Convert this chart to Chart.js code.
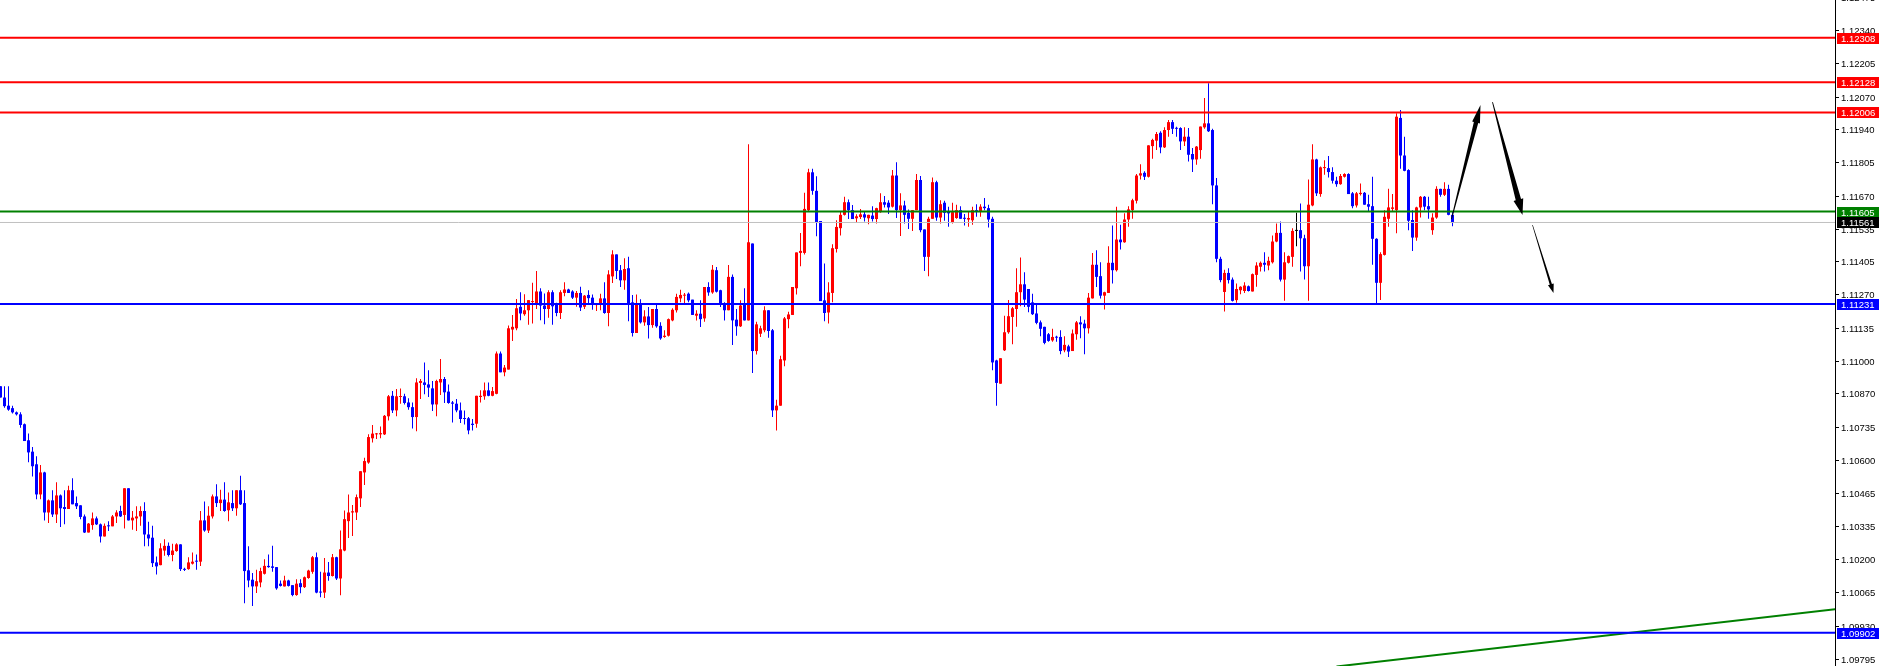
<!DOCTYPE html>
<html>
<head>
<meta charset="utf-8">
<title>EURUSD H1</title>
<script src="https://cdn.jsdelivr.net/npm/chart.js"></script>
<style>
  html, body { margin: 0; padding: 0; background: #ffffff; }
  #wrap { width: 1882px; height: 666px; }
  canvas { display: block; }
</style>
</head>
<body>
<div id="wrap"><canvas id="myChart" width="1882" height="666"></canvas></div>
<script>
'use strict'

const opens = [
  1.10899,1.10853,1.10820,1.10810,1.10793,1.10785,1.10745,1.10680,1.10634,1.10583,
  1.10461,1.10550,1.10388,1.10437,1.10380,1.10457,1.10410,1.10402,1.10478,1.10426,
  1.10417,1.10372,1.10307,1.10337,1.10364,1.10340,1.10291,1.10334,1.10332,1.10372,
  1.10394,1.10378,1.10486,1.10356,1.10364,1.10372,1.10394,1.10299,1.10286,1.10186,
  1.10175,1.10234,1.10253,1.10216,1.10232,1.10259,1.10159,1.10159,1.10181,1.10191,
  1.10189,1.10356,1.10315,1.10372,1.10453,1.10426,1.10440,1.10397,1.10426,1.10405,
  1.10478,1.10426,1.10154,1.10116,1.10089,1.10105,1.10140,1.10172,1.10170,1.10167,
  1.10100,1.10089,1.10113,1.10094,1.10054,1.10102,1.10086,1.10123,1.10148,1.10207,
  1.10067,1.10064,1.10145,1.10131,1.10207,1.10121,1.10234,1.10353,1.10388,1.10388,
  1.10445,1.10550,1.10590,1.10688,1.10704,1.10704,1.10704,1.10777,1.10860,1.10801,
  1.10855,1.10858,1.10833,1.10814,1.10774,1.10912,1.10914,1.10906,1.10890,1.10825,
  1.10914,1.10928,1.10877,1.10833,1.10828,1.10801,1.10769,1.10769,1.10747,1.10747,
  1.10855,1.10858,1.10882,1.10860,1.10868,1.11031,1.10955,1.10966,1.11128,1.11133,
  1.11220,1.11190,1.11206,1.11239,1.11233,1.11282,1.11225,1.11211,1.11279,1.11233,
  1.11195,1.11276,1.11290,1.11282,1.11257,1.11276,1.11220,1.11268,1.11257,1.11227,
  1.11230,1.11254,1.11195,1.11343,1.11432,1.11368,1.11327,1.11376,1.11238,1.11114,
  1.11233,1.11157,1.11181,1.11146,1.11211,1.11143,1.11098,1.11103,1.11165,1.11206,
  1.11254,1.11265,1.11273,1.11249,1.11184,1.11192,1.11173,1.11300,1.11278,1.11368,
  1.11287,1.11233,1.11206,1.11341,1.11168,1.11141,1.11230,1.11165,1.11476,1.11041,
  1.11111,1.11125,1.11206,1.11125,1.10801,1.10820,1.11003,1.11170,1.11187,1.11295,
  1.11438,1.11438,1.11611,1.11764,1.11689,1.11567,1.11246,1.11197,1.11276,1.11454,
  1.11538,1.11592,1.11643,1.11611,1.11578,1.11583,1.11594,1.11578,1.11589,1.11575,
  1.11603,1.11643,1.11641,1.11625,1.11751,1.11611,1.11630,1.11600,1.11576,1.11611,
  1.11733,1.11533,1.11422,1.11576,1.11724,1.11581,1.11641,1.11606,1.11562,1.11579,
  1.11611,1.11579,1.11573,1.11570,1.11611,1.11606,1.11625,1.11619,1.11576,1.11003,
  1.10909,1.11044,1.11117,1.11179,1.11211,1.11279,1.11311,1.11292,1.11238,1.11193,
  1.11157,1.11139,1.11109,1.11084,1.11098,1.11098,1.11044,1.11060,1.11041,1.11109,
  1.11157,1.11152,1.11133,1.11254,1.11390,1.11344,1.11265,1.11276,1.11398,1.11368,
  1.11492,1.11481,1.11573,1.11611,1.11649,1.11751,1.11762,1.11746,1.11870,1.11892,
  1.11924,1.11865,1.11935,1.11967,1.11943,1.11943,1.11889,1.11908,1.11838,1.11816,
  1.11854,1.11946,1.11962,1.11935,1.11711,1.11414,1.11280,1.11357,1.11330,1.11247,
  1.11287,1.11284,1.11303,1.11282,1.11349,1.11382,1.11398,1.11387,1.11400,1.11484,
  1.11519,1.11330,1.11398,1.11422,1.11527,1.11530,1.11497,1.11384,1.11630,1.11816,
  1.11676,1.11781,1.11781,1.11765,1.11730,1.11716,1.11746,1.11757,1.11679,1.11630,
  1.11676,1.11681,1.11635,1.11627,1.11495,1.11317,1.11430,1.11576,1.11616,1.11611,
  1.11984,1.11832,1.11773,1.11571,1.11500,1.11622,1.11665,1.11627,1.11530,1.11581,
  1.11697,1.11673,1.11697,1.11592
]
const highs = [
  1.10899,1.10899,1.10899,1.10820,1.10796,1.10793,1.10748,1.10707,1.10653,1.10615,
  1.10580,1.10553,1.10440,1.10478,1.10510,1.10461,1.10478,1.10496,1.10526,1.10453,
  1.10417,1.10380,1.10345,1.10388,1.10372,1.10343,1.10343,1.10353,1.10378,1.10397,
  1.10415,1.10486,1.10486,1.10394,1.10413,1.10413,1.10429,1.10351,1.10334,1.10210,
  1.10264,1.10280,1.10267,1.10262,1.10264,1.10259,1.10164,1.10207,1.10226,1.10218,
  1.10394,1.10432,1.10413,1.10461,1.10502,1.10480,1.10510,1.10469,1.10478,1.10478,
  1.10537,1.10478,1.10251,1.10143,1.10156,1.10164,1.10199,1.10218,1.10253,1.10167,
  1.10113,1.10132,1.10116,1.10094,1.10118,1.10118,1.10129,1.10156,1.10212,1.10226,
  1.10148,1.10204,1.10188,1.10220,1.10209,1.10315,1.10396,1.10461,1.10418,1.10461,
  1.10555,1.10609,1.10704,1.10742,1.10709,1.10736,1.10782,1.10863,1.10879,1.10887,
  1.10890,1.10868,1.10850,1.10833,1.10931,1.10928,1.10995,1.10963,1.10920,1.10925,
  1.11009,1.10936,1.10906,1.10839,1.10847,1.10833,1.10801,1.10774,1.10766,1.10860,
  1.10882,1.10914,1.10914,1.10896,1.11039,1.11039,1.10985,1.11144,1.11187,1.11252,
  1.11279,1.11271,1.11247,1.11317,1.11365,1.11295,1.11274,1.11287,1.11287,1.11236,
  1.11287,1.11319,1.11293,1.11287,1.11284,1.11301,1.11268,1.11287,1.11270,1.11235,
  1.11273,1.11319,1.11368,1.11449,1.11432,1.11389,1.11416,1.11422,1.11268,1.11270,
  1.11251,1.11206,1.11219,1.11211,1.11227,1.11157,1.11125,1.11173,1.11214,1.11273,
  1.11289,1.11276,1.11278,1.11249,1.11206,1.11246,1.11300,1.11319,1.11389,1.11381,
  1.11289,1.11238,1.11389,1.11351,1.11211,1.11246,1.11295,1.11878,1.11476,1.11160,
  1.11143,1.11222,1.11206,1.11130,1.10844,1.11022,1.11179,1.11200,1.11300,1.11440,
  1.11519,1.11681,1.11778,1.11778,1.11748,1.11567,1.11395,1.11319,1.11473,1.11570,
  1.11605,1.11665,1.11654,1.11632,1.11594,1.11616,1.11605,1.11592,1.11627,1.11621,
  1.11679,1.11668,1.11651,1.11773,1.11805,1.11679,1.11649,1.11614,1.11611,1.11757,
  1.11749,1.11533,1.11584,1.11743,1.11730,1.11651,1.11649,1.11625,1.11641,1.11633,
  1.11627,1.11595,1.11603,1.11625,1.11635,1.11635,1.11660,1.11633,1.11584,1.11006,
  1.11012,1.11184,1.11247,1.11219,1.11376,1.11419,1.11360,1.11292,1.11273,1.11233,
  1.11165,1.11139,1.11114,1.11131,1.11103,1.11125,1.11101,1.11066,1.11128,1.11163,
  1.11182,1.11168,1.11276,1.11438,1.11449,1.11400,1.11281,1.11465,1.11549,1.11625,
  1.11552,1.11598,1.11627,1.11657,1.11757,1.11797,1.11768,1.11873,1.11900,1.11927,
  1.11930,1.11946,1.11976,1.11976,1.11948,1.11946,1.11946,1.11943,1.11862,1.11870,
  1.11949,1.12065,1.12124,1.11940,1.11741,1.11422,1.11370,1.11376,1.11338,1.11314,
  1.11303,1.11319,1.11306,1.11355,1.11400,1.11403,1.11441,1.11422,1.11508,1.11557,
  1.11565,1.11441,1.11427,1.11538,1.11600,1.11638,1.11511,1.11735,1.11878,1.11819,
  1.11787,1.11813,1.11830,1.11784,1.11746,1.11757,1.11760,1.11760,1.11684,1.11684,
  1.11719,1.11684,1.11673,1.11746,1.11497,1.11441,1.11611,1.11697,1.11676,1.12003,
  1.12016,1.11908,1.11776,1.11611,1.11625,1.11668,1.11668,1.11665,1.11598,1.11708,
  1.11697,1.11724,1.11714,1.11608
]
const lows = [
  1.10853,1.10812,1.10799,1.10788,1.10780,1.10731,1.10677,1.10591,1.10534,1.10442,
  1.10442,1.10356,1.10345,1.10370,1.10345,1.10329,1.10340,1.10402,1.10421,1.10402,
  1.10361,1.10305,1.10307,1.10318,1.10337,1.10267,1.10291,1.10313,1.10332,1.10345,
  1.10370,1.10323,1.10356,1.10318,1.10313,1.10334,1.10251,1.10251,1.10167,1.10137,
  1.10175,1.10213,1.10210,1.10191,1.10229,1.10151,1.10151,1.10156,1.10178,1.10156,
  1.10172,1.10310,1.10305,1.10364,1.10410,1.10394,1.10391,1.10353,1.10394,1.10375,
  1.10418,1.10021,1.10086,1.10010,1.10062,1.10086,1.10137,1.10164,1.10148,1.10075,
  1.10089,1.10089,1.10089,1.10049,1.10051,1.10061,1.10083,1.10120,1.10140,1.10061,
  1.10045,1.10042,1.10112,1.10129,1.10115,1.10053,1.10231,1.10285,1.10293,1.10358,
  1.10410,1.10499,1.10585,1.10671,1.10685,1.10688,1.10701,1.10760,1.10790,1.10777,
  1.10828,1.10825,1.10804,1.10728,1.10717,1.10847,1.10866,1.10855,1.10798,1.10777,
  1.10863,1.10831,1.10828,1.10752,1.10793,1.10750,1.10744,1.10704,1.10720,1.10731,
  1.10833,1.10844,1.10858,1.10858,1.10866,1.10955,1.10939,1.10966,1.11082,1.11125,
  1.11166,1.11184,1.11147,1.11152,1.11211,1.11166,1.11149,1.11176,1.11147,1.11182,
  1.11171,1.11263,1.11276,1.11252,1.11220,1.11203,1.11211,1.11233,1.11208,1.11203,
  1.11206,1.11192,1.11141,1.11316,1.11332,1.11300,1.11289,1.11162,1.11100,1.11114,
  1.11152,1.11143,1.11092,1.11135,1.11135,1.11087,1.11095,1.11100,1.11162,1.11197,
  1.11238,1.11235,1.11238,1.11187,1.11165,1.11138,1.11160,1.11265,1.11273,1.11278,
  1.11219,1.11165,1.11206,1.11065,1.11103,1.11138,1.11165,1.11165,1.10952,1.11027,
  1.11098,1.11117,1.11095,1.10774,1.10720,1.10820,1.10979,1.11133,1.11187,1.11270,
  1.11384,1.11432,1.11605,1.11673,1.11505,1.11243,1.11162,1.11152,1.11238,1.11440,
  1.11508,1.11589,1.11575,1.11575,1.11559,1.11575,1.11565,1.11554,1.11565,1.11557,
  1.11600,1.11622,1.11595,1.11622,1.11579,1.11506,1.11557,1.11535,1.11527,1.11611,
  1.11522,1.11365,1.11344,1.11576,1.11568,1.11557,1.11568,1.11544,1.11557,1.11576,
  1.11576,1.11549,1.11544,1.11552,1.11584,1.11584,1.11611,1.11541,1.10963,1.10820,
  1.10909,1.11041,1.11111,1.11068,1.11139,1.11222,1.11219,1.11198,1.11187,1.11149,
  1.11101,1.11068,1.11079,1.11079,1.11079,1.11028,1.11036,1.11017,1.11041,1.11087,
  1.11093,1.11028,1.11112,1.11254,1.11300,1.11254,1.11209,1.11276,1.11314,1.11363,
  1.11452,1.11479,1.11544,1.11576,1.11638,1.11735,1.11733,1.11743,1.11819,1.11854,
  1.11841,1.11862,1.11908,1.11919,1.11908,1.11854,1.11870,1.11808,1.11765,1.11795,
  1.11819,1.11940,1.11927,1.11635,1.11400,1.11319,1.11201,1.11314,1.11241,1.11236,
  1.11271,1.11276,1.11282,1.11282,1.11301,1.11363,1.11363,1.11368,1.11395,1.11481,
  1.11322,1.11244,1.11395,1.11382,1.11465,1.11363,1.11330,1.11244,1.11627,1.11668,
  1.11665,1.11754,1.11743,1.11719,1.11706,1.11714,1.11743,1.11676,1.11619,1.11622,
  1.11670,1.11633,1.11603,1.11390,1.11228,1.11247,1.11427,1.11544,1.11603,1.11517,
  1.11778,1.11768,1.11530,1.11446,1.11487,1.11581,1.11611,1.11576,1.11511,1.11576,
  1.11665,1.11668,1.11590,1.11546
]
const closes = [
  1.10853,1.10818,1.10804,1.10793,1.10785,1.10742,1.10677,1.10631,1.10575,1.10461,
  1.10550,1.10388,1.10437,1.10380,1.10457,1.10405,1.10402,1.10478,1.10421,1.10413,
  1.10370,1.10307,1.10343,1.10364,1.10340,1.10291,1.10334,1.10332,1.10372,1.10388,
  1.10372,1.10486,1.10356,1.10367,1.10372,1.10394,1.10299,1.10283,1.10183,1.10170,
  1.10243,1.10253,1.10216,1.10234,1.10259,1.10159,1.10156,1.10186,1.10189,1.10189,
  1.10356,1.10315,1.10375,1.10453,1.10426,1.10440,1.10394,1.10429,1.10405,1.10478,
  1.10421,1.10151,1.10113,1.10089,1.10110,1.10151,1.10172,1.10167,1.10164,1.10081,
  1.10091,1.10113,1.10091,1.10054,1.10100,1.10086,1.10126,1.10153,1.10207,1.10064,
  1.10064,1.10145,1.10131,1.10207,1.10121,1.10239,1.10361,1.10388,1.10393,1.10450,
  1.10555,1.10596,1.10693,1.10707,1.10707,1.10709,1.10779,1.10858,1.10801,1.10858,
  1.10858,1.10831,1.10814,1.10774,1.10914,1.10920,1.10904,1.10893,1.10825,1.10920,
  1.10928,1.10874,1.10831,1.10828,1.10801,1.10766,1.10766,1.10720,1.10742,1.10860,
  1.10860,1.10882,1.10860,1.10879,1.11031,1.10955,1.10974,1.11133,1.11139,1.11214,
  1.11193,1.11206,1.11247,1.11242,1.11282,1.11225,1.11211,1.11279,1.11222,1.11195,
  1.11279,1.11290,1.11276,1.11257,1.11276,1.11217,1.11265,1.11255,1.11230,1.11233,
  1.11254,1.11195,1.11351,1.11432,1.11365,1.11327,1.11373,1.11235,1.11114,1.11235,
  1.11157,1.11181,1.11146,1.11211,1.11141,1.11092,1.11103,1.11170,1.11208,1.11260,
  1.11268,1.11268,1.11246,1.11187,1.11192,1.11170,1.11300,1.11278,1.11370,1.11281,
  1.11230,1.11206,1.11341,1.11165,1.11141,1.11225,1.11165,1.11481,1.11041,1.11149,
  1.11133,1.11206,1.11122,1.10801,1.10820,1.11008,1.11173,1.11189,1.11300,1.11440,
  1.11446,1.11616,1.11764,1.11689,1.11562,1.11243,1.11195,1.11278,1.11457,1.11543,
  1.11592,1.11643,1.11611,1.11575,1.11586,1.11594,1.11581,1.11592,1.11575,1.11619,
  1.11643,1.11633,1.11622,1.11751,1.11611,1.11630,1.11592,1.11576,1.11611,1.11733,
  1.11530,1.11422,1.11576,1.11724,1.11581,1.11635,1.11600,1.11598,1.11603,1.11611,
  1.11576,1.11576,1.11579,1.11611,1.11606,1.11625,1.11619,1.11573,1.10995,1.10912,
  1.11012,1.11117,1.11182,1.11214,1.11279,1.11311,1.11249,1.11220,1.11190,1.11155,
  1.11131,1.11074,1.11082,1.11098,1.11095,1.11041,1.11066,1.11039,1.11112,1.11157,
  1.11149,1.11133,1.11257,1.11390,1.11341,1.11265,1.11279,1.11398,1.11368,1.11492,
  1.11481,1.11573,1.11614,1.11651,1.11751,1.11760,1.11746,1.11873,1.11895,1.11919,
  1.11865,1.11935,1.11967,1.11940,1.11940,1.11889,1.11908,1.11835,1.11816,1.11868,
  1.11949,1.11962,1.11930,1.11711,1.11414,1.11328,1.11357,1.11328,1.11244,1.11292,
  1.11301,1.11306,1.11284,1.11352,1.11387,1.11398,1.11390,1.11406,1.11484,1.11519,
  1.11330,1.11400,1.11425,1.11527,1.11527,1.11497,1.11384,1.11633,1.11816,1.11679,
  1.11784,1.11784,1.11765,1.11730,1.11716,1.11749,1.11757,1.11676,1.11627,1.11679,
  1.11681,1.11633,1.11625,1.11495,1.11317,1.11433,1.11584,1.11622,1.11622,1.11989,
  1.11832,1.11770,1.11568,1.11500,1.11622,1.11665,1.11625,1.11614,1.11581,1.11697,
  1.11673,1.11697,1.11592,1.11561
]

const tickLabels = ['1.12475', '1.12340', '1.12205', '1.12070', '1.11940', '1.11805', '1.11670',
  '1.11535', '1.11405', '1.11270', '1.11135', '1.11000', '1.10870', '1.10735', '1.10600',
  '1.10465', '1.10335', '1.10200', '1.10065', '1.09930', '1.09795']

const levelPrices = [1.12308, 1.12128, 1.12006, 1.11605, 1.11231, 1.09902]
const levelColors = ['#ff0000', '#ff0000', '#ff0000', '#008000', '#0000ff', '#0000ff']
const lastPrice = 1.11561

const trendLine = [[334, 1.09765], [459, 1.09997]]

// [x1, y1, x2, y2, startWidth, endWidth, headLength, headWidth]
const arrows = [
  [362.75, 1.11575, 370.0, 1.12036, 0.8, 4.5, 18, 8],
  [373.0, 1.12048, 380.5, 1.11591, 0.8, 5.5, 16, 10],
  [383, 1.11551, 388.25, 1.11276, 0.6, 2.2, 9, 6]
]

const up = '#ff0000'
const down = '#0000ff'
const candleColors = opens.map((o, i) => closes[i] > o ? up : (closes[i] < o ? down : '#000000'))

const wickData = []
const bodyData = []
for (let i = 0; i < opens.length; i++) {
  wickData.push({ x: i, y: [lows[i], highs[i]] })
  bodyData.push({ x: i, y: [opens[i], closes[i]] })
}

const datasets = []
for (let i = 0; i < levelPrices.length; i++) {
  datasets.push({
    type: 'line',
    data: [{ x: -5, y: levelPrices[i] }, { x: 470, y: levelPrices[i] }],
    borderColor: levelColors[i],
    borderWidth: 2,
    pointRadius: 0,
    order: 0
  })
}
datasets.push({
  type: 'line',
  data: [{ x: -5, y: lastPrice }, { x: 470, y: lastPrice }],
  borderColor: '#c0c0c0',
  borderWidth: 1,
  pointRadius: 0,
  order: 1
})
datasets.push({
  type: 'line',
  data: trendLine.map(p => ({ x: p[0], y: p[1] })),
  borderColor: '#008000',
  borderWidth: 2,
  pointRadius: 0,
  order: 0
})
datasets.push({
  type: 'bar',
  data: bodyData,
  backgroundColor: candleColors,
  barThickness: 3,
  minBarLength: 1,
  grouped: false,
  borderWidth: 0,
  inflateAmount: 0,
  order: 2
})
datasets.push({
  type: 'bar',
  data: wickData,
  backgroundColor: candleColors,
  barThickness: 1,
  grouped: false,
  borderWidth: 0,
  inflateAmount: 0,
  order: 3
})

function drawArrow(ctx, x1, y1, x2, y2, w0, w1, hl, hw) {
  const dx = x2 - x1
  const dy = y2 - y1
  const len = Math.hypot(dx, dy)
  const ux = dx / len
  const uy = dy / len
  const nx = -uy
  const ny = ux
  const bx = x2 - ux * hl
  const by = y2 - uy * hl
  ctx.beginPath()
  ctx.moveTo(x1 + nx * w0 / 2, y1 + ny * w0 / 2)
  ctx.lineTo(bx + nx * w1 / 2, by + ny * w1 / 2)
  ctx.lineTo(bx + nx * hw / 2, by + ny * hw / 2)
  ctx.lineTo(x2, y2)
  ctx.lineTo(bx - nx * hw / 2, by - ny * hw / 2)
  ctx.lineTo(bx - nx * w1 / 2, by - ny * w1 / 2)
  ctx.lineTo(x1 - nx * w0 / 2, y1 - ny * w0 / 2)
  ctx.closePath()
  ctx.fill()
}

const arrowPlugin = {
  id: 'arrowPlugin',
  afterDatasetsDraw(chart) {
    const ctx = chart.ctx
    const xs = chart.scales.x
    const ys = chart.scales.y
    ctx.save()
    ctx.fillStyle = '#000000'
    for (const a of arrows) {
      drawArrow(ctx, xs.getPixelForValue(a[0]), ys.getPixelForValue(a[1]),
        xs.getPixelForValue(a[2]), ys.getPixelForValue(a[3]), a[4], a[5], a[6], a[7])
    }
    ctx.restore()
  }
}

const priceAxis = {
  id: 'priceAxis',
  afterDraw(chart) {
    const ctx = chart.ctx
    const ys = chart.scales.y
    const right = chart.chartArea.right
    ctx.save()
    ctx.fillStyle = '#000000'
    ctx.fillRect(right, 0, 1, chart.height)
    ctx.font = '9.5px "Liberation Sans", Arial, sans-serif'
    ctx.textBaseline = 'middle'
    for (const t of tickLabels) {
      const py = Math.round(ys.getPixelForValue(Number(t)))
      ctx.fillRect(right, py, 4, 1)
      ctx.fillText(t, right + 6, py + 1.5)
    }
    const boxes = levelPrices.map((p, i) => [p, levelColors[i]])
    boxes.push([lastPrice, '#000000'])
    for (const b of boxes) {
      const py = Math.round(ys.getPixelForValue(b[0]))
      ctx.fillStyle = b[1]
      ctx.fillRect(right + 2, py - 5, 42, 11)
      ctx.fillStyle = '#ffffff'
      ctx.fillText(b[0].toFixed(5), right + 6, py + 1)
    }
    ctx.restore()
  }
}

const config = {
  type: 'bar',
  data: { datasets: datasets },
  options: {
    responsive: false,
    animation: false,
    devicePixelRatio: 1,
    events: [],
    layout: { padding: { left: 0, right: 47, top: 0, bottom: 0 } },
    plugins: { legend: { display: false }, tooltip: { enabled: false } },
    scales: {
      x: { type: 'linear', display: false, min: -0.125, max: 458.625, offset: false },
      y: { type: 'linear', display: false, min: 1.09767, max: 1.12461 }
    }
  },
  plugins: [arrowPlugin, priceAxis]
}

const myChart = new Chart(document.getElementById('myChart'), config)
</script>
</body>
</html>
